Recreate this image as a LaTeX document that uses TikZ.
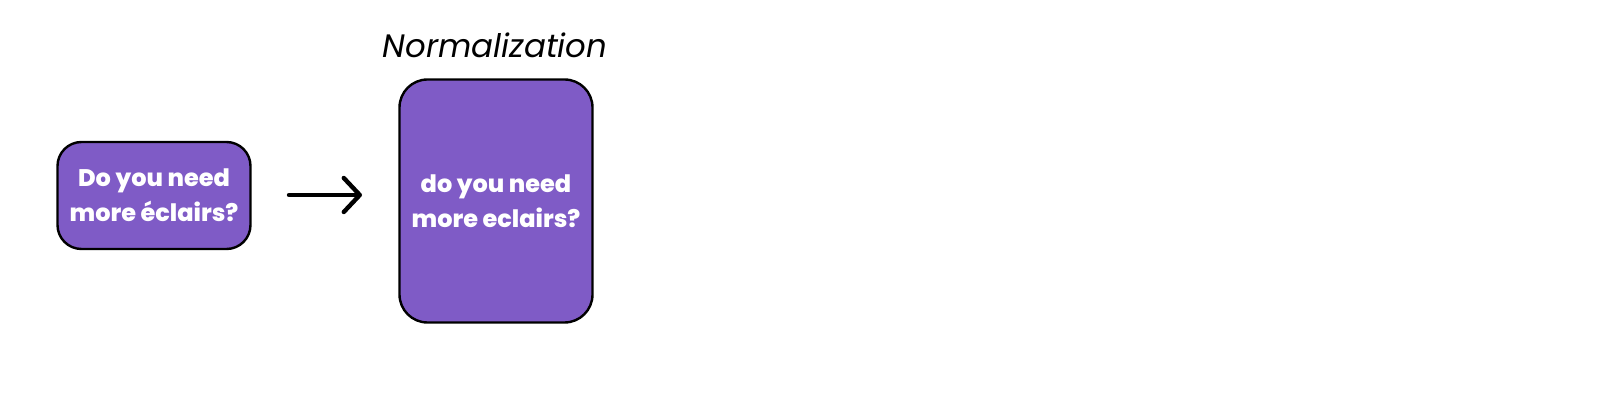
\documentclass[tikz,border=0pt]{standalone}
\usepackage{fontspec}
\setmainfont{Poppins}
\newfontfamily\heavyfont{Poppins ExtraBold}
\usetikzlibrary{arrows.meta}
\definecolor{boxpurple}{RGB}{127,91,198}
\tikzset{
  qbox/.style={draw=black, line width=1.2pt, fill=boxpurple, rounded corners=12pt,
    text=white, font=\heavyfont\fontsize{12pt}{17.5pt}\selectfont, align=center,
    inner sep=0pt, outer sep=0pt},
  flowarrow/.style={line width=2.2pt, line cap=round, -{Straight Barb[length=8pt,width=17pt,line cap=round,round]}},
  titletext/.style={font=\itshape\fontsize{16.2pt}{20pt}\selectfont, text=black}
}
\begin{document}
\begin{tikzpicture}[x=0.5pt,y=-0.5pt]
\useasboundingbox (0,0) rectangle (1600,400);
\node[qbox, minimum width=96.5pt, minimum height=53.5pt] (orig) at (154,195.5) {Do you need\\more éclairs?};
\node[qbox, minimum width=96.5pt, minimum height=121.5pt, rounded corners=14pt] (norm) at (496,201) {do you need\\more eclairs?};
\node[titletext] (title) at (495,45) {Normalization};
\coordinate (a1) at (289,195);
\coordinate (a2) at (362,195);
\draw[flowarrow] (a1) -- (a2);
\end{tikzpicture}
\end{document}
